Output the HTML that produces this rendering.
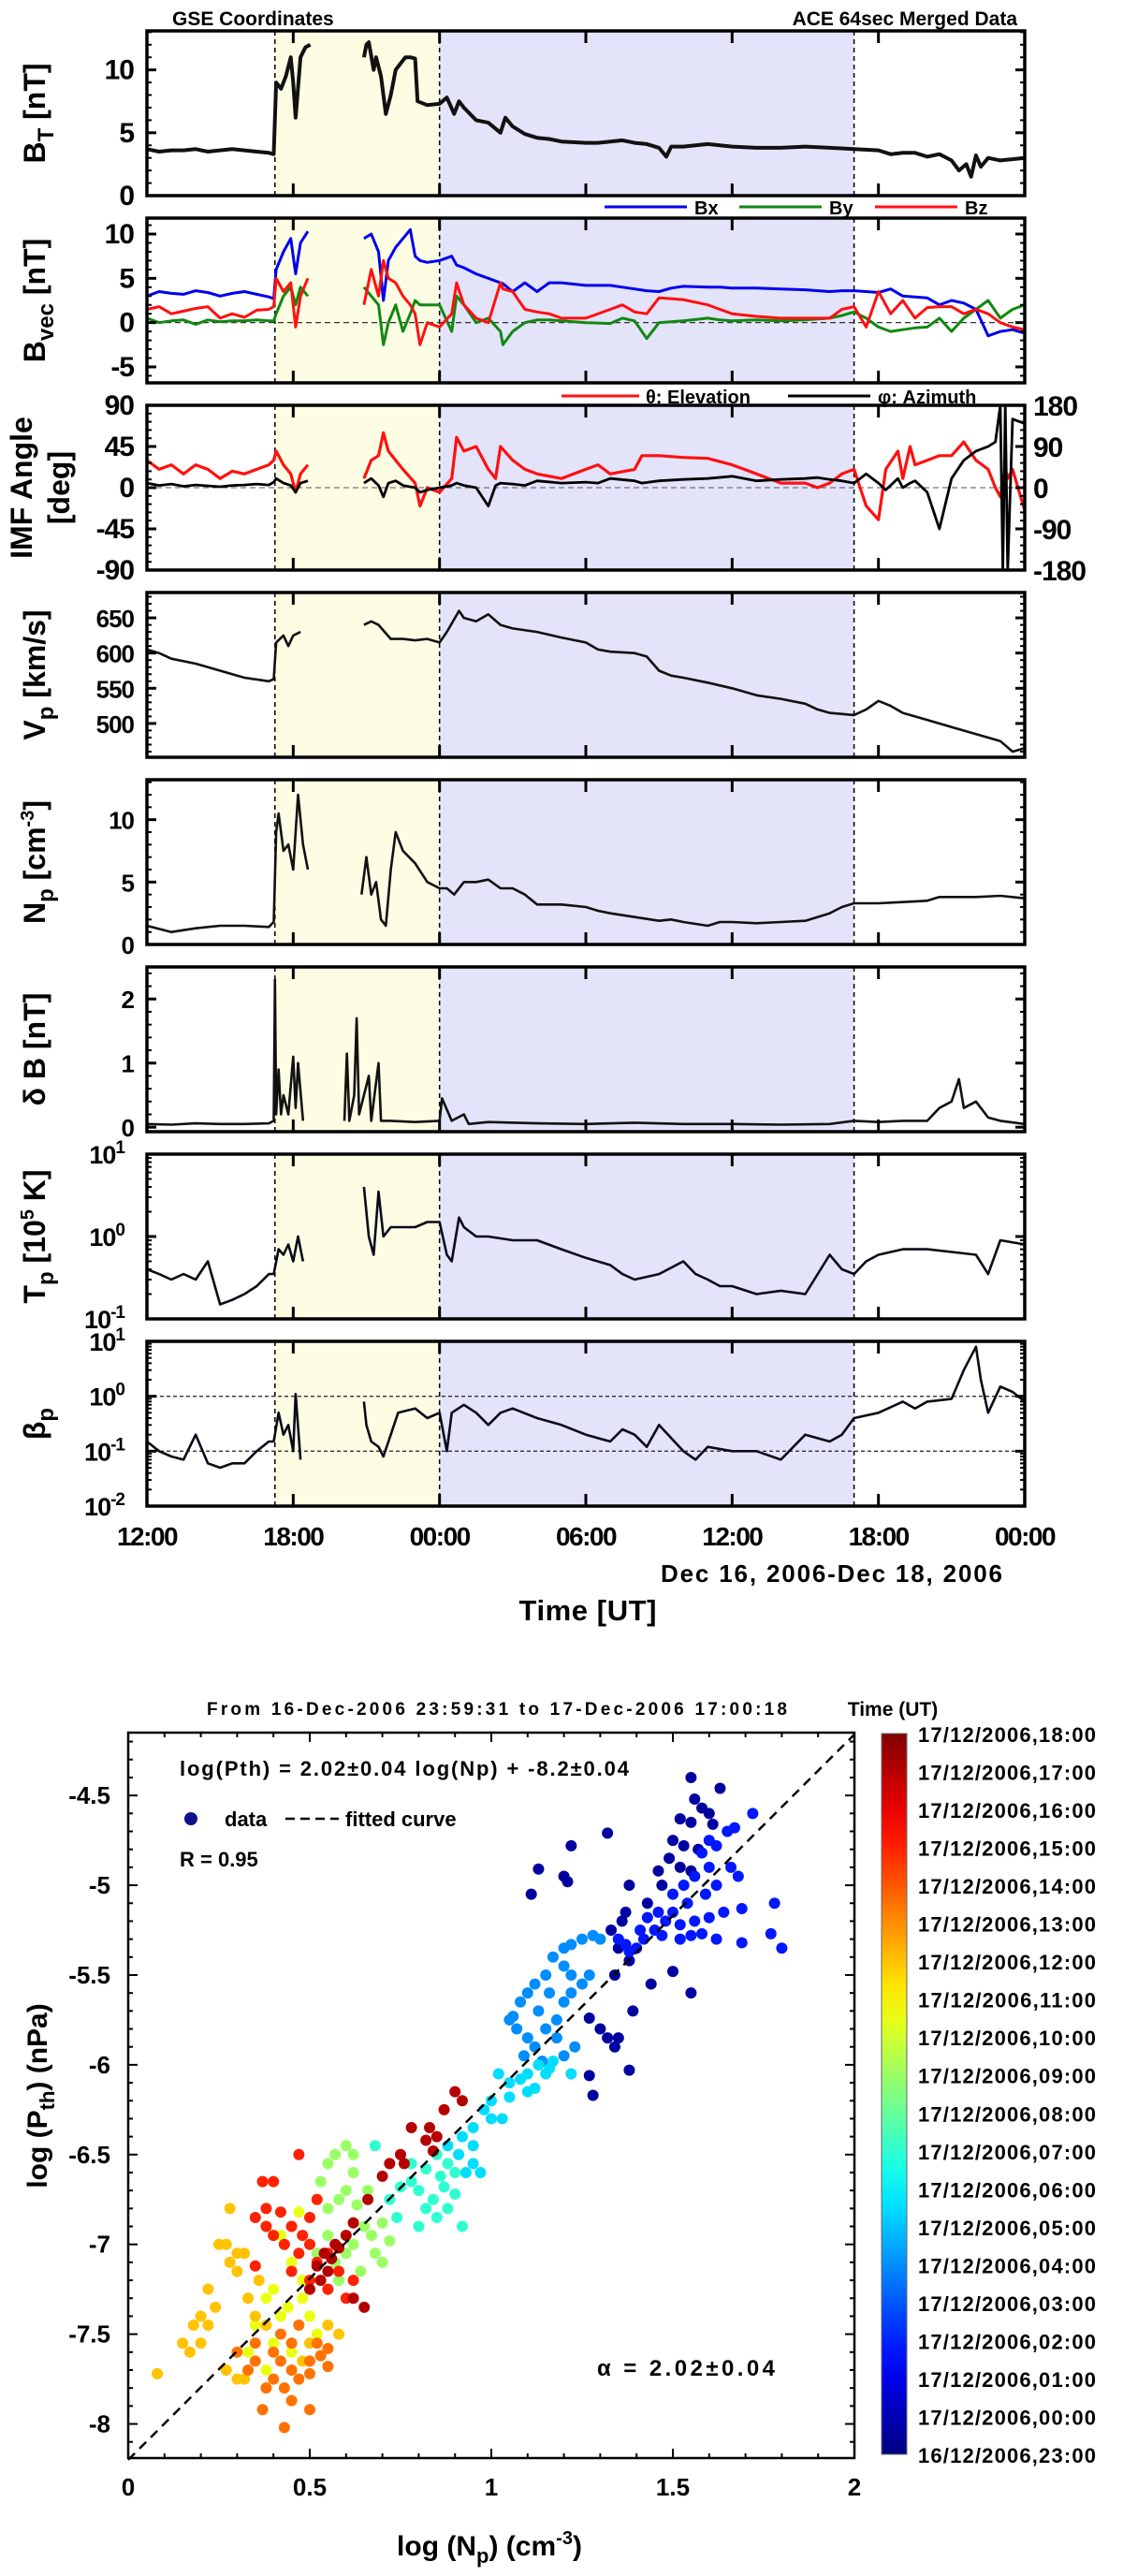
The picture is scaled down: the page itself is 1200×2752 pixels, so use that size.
<!DOCTYPE html>
<html><head><meta charset="utf-8"><style>
html,body{margin:0;padding:0;background:#fff;}
svg{display:block;font-family:"Liberation Sans",sans-serif;font-weight:bold;}
</style></head><body>
<svg id="fig" width="1200" height="2752" viewBox="0 0 1200 2752" xmlns="http://www.w3.org/2000/svg"></svg>
<script>
// ---------- time series data (t = hours since 12:00 Dec 16) ----------
const btT=[0,0.5,1,1.5,2,2.5,3,3.5,4,4.5,5,5.2,5.3,5.5,5.7,5.9,6.0,6.1,6.3,6.5,6.7,null,8.9,9.0,9.1,9.3,9.4,9.6,9.8,10,10.2,10.4,10.6,10.8,11,11.1,11.5,12,12.3,12.6,12.8,13,13.5,14,14.5,14.7,15,15.5,16,16.5,17,18,18.5,19,19.5,20,20.5,21,21.3,21.5,22,23,24,25,26,27,28,29,30,30.5,31,31.5,32,32.5,33,33.3,33.6,33.8,34,34.2,34.5,35,36];
const btV=[3.7,3.5,3.6,3.6,3.7,3.5,3.6,3.7,3.6,3.5,3.4,3.3,9,8.5,9.5,11,9,6.2,11,11.8,12,null,11,12,12.2,10,11,9.5,6.5,8,10,10.5,11,11,10.9,7.5,7.2,7.3,7.8,6.5,7.5,7,6,5.8,5,6.2,5.5,4.9,4.6,4.5,4.3,4.2,4.2,4.3,4.4,4.2,4.1,3.8,3.1,3.9,3.9,4.1,3.9,3.8,3.8,3.9,3.8,3.7,3.6,3.3,3.4,3.4,3.1,3.3,2.8,2,2.5,1.5,3.2,2.3,3,2.8,3.0];
const bT=[0,0.5,1,1.5,2,2.5,3,3.5,4,4.5,5,5.2,5.3,5.6,5.9,6.1,6.3,6.6,null,8.9,9.2,9.5,9.7,9.9,10.2,10.5,10.8,11,11.2,11.5,12,12.5,12.7,13,13.5,14,14.5,14.6,15,15.5,16,16.5,17,18,19,19.5,20,20.5,21,21.5,22,23,23.5,24,25,26,27,28,28.5,29,29.5,30,30.5,31,31.5,32,32.5,33,33.5,34,34.5,35,35.5,36];
const bxV=[3,3.5,3.3,3.2,3.6,3.4,3,3.3,3.5,3.2,2.9,2.7,6,8,9.5,5.5,9,10.3,null,9.5,10,8,2.5,7,8.5,9.5,10.5,7.5,7,6.8,7,7.5,6.5,6.2,5.5,5,4.5,4.4,3.5,4.5,3.5,4.5,4.5,4.2,4.2,4.0,3.8,3.6,3.5,3.9,4.1,4,4,3.9,3.9,3.8,3.7,3.5,3.6,3.6,3.5,3.4,3.8,3,2.9,2.8,2,2.5,2.2,1.5,-1.5,-1,-0.8,-1.2];
const byV=[0.5,0,0.2,0.3,-0.2,0.3,0.1,0.2,0.2,0.3,0.2,0.2,1,3,4,2,4,3,null,4,3,2,-2.5,0,2,-1,1,2.5,2,2,2,-1,3,2,0,0.5,-1,-2.5,-1,0,0.3,0.3,0.2,0,-0.1,0.5,0.2,-1.8,0,0.1,0.2,0.5,0.3,0.2,0.3,0.2,0.3,0.5,0.8,1.2,0.5,-0.5,-1,-0.8,-0.6,-0.5,0.5,-1,0.5,1.5,2.5,0.5,1.5,2];
const bzV=[1.5,1.8,1,1.3,1.6,1.8,0.5,1,0.6,1.4,1.5,1.8,5,3.5,4.5,-0.5,3,5,null,2,6,3,7,5,4.5,3,2,1,-2.5,0,-0.5,1,4.5,2,0.5,0,4.5,3.8,3.5,1.5,1.2,1,0.5,0.5,1.5,2,1.2,1,2.8,2.7,2.6,2,1.5,1,0.7,0.5,0.5,0.5,1.5,1.8,-0.5,3.5,1,2.5,0.5,1.7,1.8,1.8,1,1.5,1,0,-0.5,-0.8];
const angT=[0,0.5,1,1.5,2,2.5,3,3.5,4,4.5,5,5.2,5.3,5.6,5.9,6.1,6.3,6.6,null,8.9,9.2,9.5,9.7,9.9,10.2,10.5,11,11.2,11.5,12,12.5,12.7,13,13.5,14,14.3,14.5,15,15.5,16,17,18,18.5,19,20,20.3,21,22,23,24,24.5,25,26,27,27.5,28,28.5,29,29.5,30,30.3,30.8,31,31.3,31.5,32,32.5,33,33.5,34,34.5,34.8,35,35.1,35.2,35.3,35.5,36];
const thetaV=[30,20,25,15,25,20,10,18,15,20,25,30,40,25,15,-5,15,25,null,10,30,35,60,40,30,20,5,-20,0,-5,10,55,40,45,20,10,45,30,20,15,10,20,25,15,20,35,35,33,32,25,20,15,5,5,0,5,15,20,-20,-35,20,40,10,45,25,30,35,35,50,30,20,0,-10,5,20,10,20,-25];
const phiV=[10,5,8,3,6,4,2,5,6,8,6,12,20,10,5,-10,10,15,null,10,20,5,-20,10,15,5,0,-10,-5,0,5,10,5,0,-40,5,10,8,5,15,10,12,10,20,15,10,15,18,20,25,20,15,18,20,22,18,15,10,30,10,-5,20,0,10,15,-10,-90,20,60,80,90,100,180,-180,180,-180,150,140];
const vpT=[0,0.5,1,2,3,4,5,5.2,5.3,5.6,5.8,6,6.3,null,8.9,9.2,9.5,10,10.5,11,11.5,12,12.3,12.8,13,13.5,14,14.5,15,16,17,18,18.5,19,20,20.5,21,21.5,22,23,24,25,26,27,27.5,28,29,29.5,30,30.5,31,32,33,34,35,35.5,36];
const vpV=[605,600,592,585,575,565,560,563,615,625,610,625,630,null,640,645,640,620,620,618,620,615,630,660,650,645,655,640,635,630,622,615,605,602,600,595,575,568,565,558,550,540,535,528,520,515,512,520,532,525,515,505,495,485,475,460,465];
const npT=[0,1,2,3,4,5,5.2,5.3,5.4,5.6,5.8,6,6.2,6.4,6.6,null,8.8,9,9.2,9.4,9.6,9.8,10,10.2,10.5,11,11.5,12,12.3,12.6,13,13.5,14,14.5,15,15.5,16,17,18,18.5,19,20,21,21.5,22,23,23.5,24,25,26,27,28,28.5,29,30,31,32,32.5,33,34,35,36];
const npV=[1.5,1,1.3,1.5,1.5,1.4,1.8,9,10.5,7.5,8,6,12,8,6,null,4,7,4,5,2,1.5,6,9,7.5,6.5,5,4.5,4.5,4,5,5,5.2,4.5,4.5,4,3.2,3.2,3,2.7,2.5,2.2,1.9,2,1.8,1.5,1.8,1.8,1.7,1.8,1.9,2.5,3,3.3,3.3,3.4,3.5,3.8,3.8,3.8,3.9,3.7];
const dbT=[0,1,2,3,4,5,5.2,5.25,5.3,5.4,5.5,5.6,5.8,6,6.1,6.2,6.4,null,8.1,8.2,8.3,8.5,8.6,8.7,8.9,9.1,9.2,9.5,9.6,10,11,12,12.1,12.5,13,13.2,14,16,18,20,22,24,26,28,29,30,31,32,32.5,33,33.3,33.5,34,34.5,35,36];
const dbV=[0.05,0.04,0.06,0.05,0.05,0.06,0.1,2.3,0.2,0.9,0.2,0.5,0.2,1.1,0.3,1.0,0.1,null,0.1,1.15,0.1,0.5,1.7,0.2,0.5,0.8,0.1,1.0,0.1,0.1,0.08,0.1,0.45,0.1,0.2,0.05,0.08,0.06,0.05,0.07,0.05,0.05,0.04,0.05,0.1,0.08,0.1,0.1,0.3,0.4,0.75,0.3,0.4,0.15,0.1,0.05];
const tpT=[0,0.5,1,1.5,2,2.5,3,3.5,4,4.5,5,5.2,5.4,5.6,5.8,6,6.2,6.4,null,8.9,9.1,9.3,9.5,9.7,10,11,11.5,12,12.3,12.5,12.8,13,13.5,14,15,16,17,18,19,19.5,20,21,22,22.5,23,23.5,24,25,26,27,28,28.5,29,29.5,30,31,32,33,34,34.5,35,36];
const tpV=[0.4,0.35,0.3,0.35,0.3,0.5,0.15,0.17,0.2,0.25,0.35,0.35,0.7,0.6,0.8,0.5,1.0,0.5,null,4,1,0.6,3.5,1,1.3,1.3,1.5,1.5,0.6,0.5,1.7,1.3,1,1,0.9,0.9,0.7,0.55,0.45,0.35,0.3,0.35,0.5,0.35,0.3,0.25,0.25,0.2,0.22,0.2,0.6,0.4,0.35,0.5,0.6,0.7,0.7,0.65,0.6,0.35,0.9,0.8];
const betaT=[0,0.5,1,1.5,2,2.5,3,3.5,4,4.5,5,5.2,5.4,5.6,5.8,6,6.1,6.3,null,8.9,9,9.2,9.5,9.7,10,10.3,11,11.5,12,12.3,12.5,13,13.5,14,14.5,15,16,17,18,19,19.5,20,20.5,21,22,22.5,23,24,25,26,27,28,28.5,29,30,31,31.5,32,33,33.5,34,34.2,34.5,35,35.5,36];
const betaV=[0.15,0.1,0.08,0.07,0.2,0.06,0.05,0.06,0.06,0.1,0.15,0.15,0.5,0.2,0.3,0.1,1.1,0.07,null,0.8,0.3,0.15,0.12,0.08,0.2,0.5,0.6,0.4,0.5,0.1,0.5,0.7,0.5,0.3,0.5,0.6,0.4,0.3,0.2,0.15,0.25,0.2,0.12,0.3,0.1,0.07,0.12,0.1,0.1,0.07,0.2,0.15,0.2,0.4,0.5,0.8,0.6,0.8,0.9,3,8,2,0.5,1.5,1.2,0.8];
const timeTicks=["12:00","18:00","00:00","06:00","12:00","18:00","00:00"];

// ---------- scatter data ----------
const groupHours=[0.6,2.8,5,6.5,8,10,11.5,13,14.5,16,18];
const groupX=[
[1.55,1.56,1.58,1.60,1.52,1.55,1.61,1.50,1.53,1.57,1.49,1.52,1.46,1.55,1.47,1.43,1.37,1.33,1.35,1.34,1.38,1.44,1.55,1.5,1.11,1.13,1.2,1.21,1.22,1.32,1.38,1.27,1.30,1.32,1.34,1.35,1.39,1.38,1.27,1.28,1.36,1.63],
[1.6,1.62,1.65,1.67,1.72,1.58,1.66,1.68,1.62,1.59,1.54,1.5,1.48,1.45,1.52,1.56,1.6,1.64,1.69,1.78,1.77,1.8,1.62,1.58,1.55,1.52,1.47,1.42,1.4,1.38,1.35,1.41,1.46,1.5,1.53,1.56,1.6,1.69,1.43,1.37],
[1.2,1.22,1.25,1.28,1.3,1.17,1.2,1.22,1.15,1.12,1.1,1.13,1.08,1.06,1.05,1.07,1.1,1.12,1.15,1.18,1.2,1.22,1.25,1.27,1.16,1.09,1.14,1.2,1.23,1.18],
[1.02,1.05,1.08,1.1,1.13,1.16,1.15,1.17,1.22,1.05,1.1,1.12,1.0,0.98,1.0,1.03,0.95,0.92,0.95,0.91,0.95,0.97,0.93,0.88],
[0.85,0.88,0.9,0.86,0.82,0.87,0.9,0.84,0.8,0.78,0.75,0.82,0.85,0.88,0.92,0.78,0.72,0.74,0.8,0.68],
[0.6,0.62,0.57,0.55,0.53,0.6,0.63,0.58,0.55,0.5,0.65,0.67,0.62,0.6,0.57,0.55,0.52,0.68,0.7,0.64,0.58,0.62,0.66,0.7,0.72],
[0.47,0.42,0.45,0.48,0.4,0.38,0.44,0.5,0.35,0.4,0.45,0.38,0.33,0.52,0.48,0.42],
[0.28,0.25,0.27,0.3,0.28,0.3,0.32,0.22,0.24,0.2,0.18,0.2,0.17,0.15,0.22,0.27,0.3,0.32,0.35,0.38,0.33,0.36,0.08,0.5,0.55,0.58,0.48],
[0.42,0.45,0.5,0.53,0.55,0.5,0.47,0.43,0.4,0.38,0.35,0.33,0.3,0.37,0.43,0.45,0.5,0.45,0.52,0.55,0.42,0.47,0.4,0.35],
[0.37,0.4,0.47,0.35,0.38,0.42,0.45,0.4,0.43,0.47,0.5,0.52,0.55,0.58,0.62,0.6,0.55,0.5,0.48,0.45,0.35,0.52,0.5,0.38],
[0.9,0.92,0.87,0.83,0.85,0.82,0.78,0.75,0.76,0.7,0.66,0.62,0.6,0.58,0.56,0.55,0.53,0.57,0.54,0.52,0.65,0.62,0.84,0.72,0.5]];
const groupY=[
[-4.4,-4.52,-4.57,-4.6,-4.63,-4.65,-4.66,-4.75,-4.78,-4.8,-4.85,-4.9,-4.92,-4.92,-5.0,-5.1,-5.15,-5.25,-5.35,-5.5,-5.42,-5.55,-5.6,-5.48,-5.05,-4.91,-4.95,-4.98,-4.78,-4.71,-5.0,-5.74,-5.8,-5.85,-5.9,-5.85,-5.7,-6.03,-6.06,-6.17,-5.2,-4.46],
[-4.75,-4.78,-4.7,-4.68,-4.6,-4.82,-4.9,-4.95,-5.0,-5.05,-5.1,-5.15,-5.2,-5.25,-5.22,-5.2,-5.18,-5.15,-5.13,-5.1,-5.27,-5.35,-5.3,-5.27,-5.28,-5.3,-5.28,-5.3,-5.35,-5.37,-5.3,-5.25,-5.15,-5.05,-5.0,-4.95,-4.9,-5.32,-5.18,-5.33],
[-5.35,-5.33,-5.3,-5.28,-5.3,-5.4,-5.45,-5.5,-5.5,-5.55,-5.6,-5.7,-5.65,-5.73,-5.75,-5.8,-5.85,-5.9,-5.8,-5.75,-5.65,-5.6,-5.55,-5.5,-5.6,-5.95,-5.98,-5.95,-5.9,-5.85],
[-6.05,-6.1,-6.08,-6.05,-6.0,-6.02,-6.05,-5.98,-6.05,-6.18,-6.15,-6.13,-6.2,-6.25,-6.3,-6.3,-6.35,-6.4,-6.45,-6.5,-6.55,-6.6,-6.6,-6.45],
[-6.5,-6.55,-6.6,-6.62,-6.58,-6.68,-6.72,-6.75,-6.7,-6.65,-6.68,-6.8,-6.85,-6.8,-6.9,-6.55,-6.75,-6.85,-6.9,-6.45],
[-6.45,-6.5,-6.5,-6.55,-6.65,-6.7,-6.78,-6.75,-6.8,-6.85,-6.9,-6.95,-7.0,-7.05,-7.1,-6.95,-7.05,-7.05,-7.1,-7.15,-7.2,-6.6,-6.7,-6.88,-6.98],
[-6.82,-6.95,-7.1,-7.2,-7.25,-7.3,-7.35,-7.4,-7.45,-7.55,-7.6,-7.7,-7.6,-7.5,-7.3,-7.4],
[-6.8,-7.0,-7.0,-7.05,-7.1,-7.15,-7.05,-7.25,-7.35,-7.4,-7.45,-7.55,-7.6,-7.55,-7.45,-7.7,-7.75,-7.75,-7.4,-7.45,-7.3,-7.2,-7.72,-7.55,-7.45,-7.5,-7.65],
[-7.65,-7.7,-7.65,-7.62,-7.68,-7.72,-7.75,-7.8,-7.75,-7.8,-7.65,-7.7,-7.6,-7.92,-8.02,-7.87,-7.92,-7.55,-7.55,-7.58,-7.5,-7.45,-7.6,-7.55],
[-6.65,-6.65,-6.5,-6.85,-6.8,-6.82,-6.9,-6.95,-7.0,-7.05,-7.0,-7.1,-7.05,-7.15,-7.2,-7.3,-7.25,-7.2,-6.95,-7.15,-7.12,-6.75,-6.85,-6.9],
[-6.15,-6.2,-6.25,-6.35,-6.4,-6.42,-6.35,-6.5,-6.55,-6.62,-6.75,-6.88,-6.95,-7.02,-7.08,-7.15,-7.2,-7.0,-7.05,-7.12,-7.35,-7.3,-6.48,-6.55,-7.25]];
const fitSlope=2.02, fitIntercept=-8.2;
const cbLabels=["17/12/2006,18:00","17/12/2006,17:00","17/12/2006,16:00","17/12/2006,15:00","17/12/2006,14:00","17/12/2006,13:00","17/12/2006,12:00","17/12/2006,11:00","17/12/2006,10:00","17/12/2006,09:00","17/12/2006,08:00","17/12/2006,07:00","17/12/2006,06:00","17/12/2006,05:00","17/12/2006,04:00","17/12/2006,03:00","17/12/2006,02:00","17/12/2006,01:00","17/12/2006,00:00","16/12/2006,23:00"];
const xTickVals=[0,0.5,1,1.5,2];
const yTickVals=[-4.5,-5,-5.5,-6,-6.5,-7,-7.5,-8];

// ---------- helpers ----------
const NS="http://www.w3.org/2000/svg";
const svg=document.getElementById('fig');
function el(tag,attrs,name,parent){
  const e=document.createElementNS(NS,tag);
  for(const k in attrs) e.setAttribute(k,attrs[k]);
  
  
  (parent||svg).appendChild(e);
  return e;
}
function txt(x,y,s,size,name,anchor,extra){
  const a=Object.assign({x:x,y:y,'font-size':size,'text-anchor':anchor||'start',fill:'#000'},extra||{});
  const t=el('text',a,name);
  t.textContent=s;
  return t;
}
function jet(v){
  v=Math.max(0,Math.min(1,v));
  const r=Math.max(0,Math.min(1,1.5-Math.abs(4*v-3)));
  const g=Math.max(0,Math.min(1,1.5-Math.abs(4*v-2)));
  const b=Math.max(0,Math.min(1,1.5-Math.abs(4*v-1)));
  return `rgb(${Math.round(r*255)},${Math.round(g*255)},${Math.round(b*255)})`;
}

// ---------- time series panels ----------
const L=157,R=1095,PT0=33,PITCH=200,PH=176;
const X=t=>L+t/36*(R-L);
const panels=[
 {name:'bt',lo:0,hi:13.1,log:false,ticks:[0,5,10],minor:1,label:['B','T',' [nT]']},
 {name:'bvec',lo:-6.8,hi:11.8,log:false,ticks:[-5,0,5,10],minor:1,label:['B','vec',' [nT]']},
 {name:'angle',lo:-90,hi:90,log:false,ticks:[-90,-45,0,45,90],minor:9},
 {name:'vp',lo:452,hi:686,log:false,ticks:[500,550,600,650],minor:10,label:['V','p',' [km/s]']},
 {name:'np',lo:0,hi:13.2,log:false,ticks:[0,5,10],minor:1,label:['N','p',' [cm','-3',']']},
 {name:'db',lo:-0.07,hi:2.5,log:false,ticks:[0,1,2],minor:0.2,label:['δ B [nT]']},
 {name:'tp',lo:-1,hi:1,log:true,ticks:[-1,0,1],label:['T','p',' [10','5',' K]']},
 {name:'beta',lo:-2,hi:1,log:true,ticks:[-2,-1,0,1],label:['β','p']}
];
panels.forEach((p,i)=>{
  const top=PT0+i*PITCH,bot=top+PH;
  p.Y=v=>{const vv=p.log?Math.log10(v):v;return bot-(vv-p.lo)/(p.hi-p.lo)*PH;};
  p.top=top;p.bot=bot;
  const g=el('g',{},'panel-'+p.name);
  el('rect',{x:X(5.25),y:top,width:X(12)-X(5.25),height:PH,fill:'#fdfde4'},'sheath-shading',g);
  el('rect',{x:X(12),y:top,width:X(29)-X(12),height:PH,fill:'#e3e3fa'},'mc-shading',g);
  [5.25,12,29].forEach(t=>el('line',{x1:X(t),x2:X(t),y1:top,y2:bot,stroke:'#000','stroke-width':1.5,'stroke-dasharray':'5,4'},'boundary-line',g));
  p.g=g;
});
function series(p,T,V,color,width,name,mapV){
  let d='',pen=false;
  for(let k=0;k<T.length;k++){
    if(T[k]===null||V[k]===null){pen=false;continue;}
    const y=mapV?mapV(V[k]):p.Y(V[k]);
    d+=(pen?'L':'M')+X(T[k]).toFixed(1)+','+y.toFixed(1);pen=true;
  }
  el('path',{d:d,fill:'none',stroke:color,'stroke-width':width,'stroke-linejoin':'round'},name,p.g);
}
const P=Object.fromEntries(panels.map(p=>[p.name,p]));
series(P.bt,btT,btV,'#111',4,'bt-line');
el('line',{x1:L,x2:R,y1:P.bvec.Y(0),y2:P.bvec.Y(0),stroke:'#333','stroke-width':1.2,'stroke-dasharray':'6,4'},'zero-line',P.bvec.g);
series(P.bvec,bT,bxV,'#0000ee',3,'bx-line');
series(P.bvec,bT,byV,'#118811',3,'by-line');
series(P.bvec,bT,bzV,'#ff1010',3,'bz-line');
el('line',{x1:L,x2:R,y1:P.angle.Y(0),y2:P.angle.Y(0),stroke:'#555','stroke-width':1,'stroke-dasharray':'6,4'},'zero-line',P.angle.g);
series(P.angle,angT,thetaV,'#ff1010',3.2,'theta-line');
series(P.angle,angT,phiV,'#000',2.8,'phi-line',v=>P.angle.Y(v/2));
series(P.vp,vpT,vpV,'#111',2.6,'vp-line');
series(P.np,npT,npV,'#111',2.6,'np-line');
series(P.db,dbT,dbV,'#111',2.6,'db-line');
series(P.tp,tpT,tpV,'#0a0a18',2.6,'tp-line');
[1,0.1].forEach(v=>el('line',{x1:L,x2:R,y1:P.beta.Y(v),y2:P.beta.Y(v),stroke:'#333','stroke-width':1.3,'stroke-dasharray':'4,3'},'reference-line',P.beta.g));
series(P.beta,betaT,betaV,'#0a0a18',2.6,'beta-line');

// axes, ticks, labels
panels.forEach(p=>{
  const g=p.g;
  el('rect',{x:L,y:p.top,width:R-L,height:PH,fill:'none',stroke:'#000','stroke-width':3.5},'panel-frame',g);
  for(let h=0;h<=36;h+=6){
    el('line',{x1:X(h),x2:X(h),y1:p.bot,y2:p.bot-13,stroke:'#000','stroke-width':3},'x-tick',g);
    el('line',{x1:X(h),x2:X(h),y1:p.top,y2:p.top+13,stroke:'#000','stroke-width':3},'x-tick',g);
  }
  if(p.log){
    for(let dcd=p.lo;dcd<p.hi;dcd++) for(let m=2;m<10;m++){
      const y=p.Y(m*Math.pow(10,dcd));
      el('line',{x1:L,x2:L+5,y1:y,y2:y,stroke:'#000','stroke-width':2},'y-minor-tick',g);
      el('line',{x1:R,x2:R-5,y1:y,y2:y,stroke:'#000','stroke-width':2},'y-minor-tick',g);
    }
    p.ticks.forEach(e=>{
      const y=p.Y(Math.pow(10,e));
      el('line',{x1:L,x2:L+10,y1:y,y2:y,stroke:'#000','stroke-width':3},'y-tick',g);
      el('line',{x1:R,x2:R-10,y1:y,y2:y,stroke:'#000','stroke-width':3},'y-tick',g);
      const t=txt(133,y+10,'10',27,'y-tick-label','end',{'letter-spacing':'-1'});
      const s=document.createElementNS(NS,'tspan');s.setAttribute('dy','-11');s.setAttribute('font-size','19');s.textContent=String(e);t.appendChild(s);
    });
  } else {
    const step=p.minor;
    for(let v=Math.ceil(p.lo/step)*step;v<=p.hi;v+=step){
      const y=p.Y(v);
      el('line',{x1:L,x2:L+5,y1:y,y2:y,stroke:'#000','stroke-width':2},'y-minor-tick',g);
      el('line',{x1:R,x2:R-5,y1:y,y2:y,stroke:'#000','stroke-width':2},'y-minor-tick',g);
    }
    p.ticks.forEach(v=>{
      const y=p.Y(v);
      el('line',{x1:L,x2:L+10,y1:y,y2:y,stroke:'#000','stroke-width':3},'y-tick',g);
      el('line',{x1:R,x2:R-10,y1:y,y2:y,stroke:'#000','stroke-width':3},'y-tick',g);
      txt(143,y+10,String(v),p.name==='bt'||p.name==='bvec'||p.name==='angle'?30:26,'y-tick-label','end',{'letter-spacing':'-1'});
    });
  }
  if(p.label){
    const cy=(p.top+p.bot)/2;
    const t=el('text',{x:0,y:0,'font-size':32,'text-anchor':'middle',transform:`translate(48,${cy}) rotate(-90)`},'y-axis-title');
    p.label.forEach((s,k)=>{
      const sp=document.createElementNS(NS,'tspan');
      const isSub=(p.label.length>1&&k===1);
      const isSup=(k===3);
      if(isSub){sp.setAttribute('dy','9');sp.setAttribute('font-size','24');}
      else if(isSup){sp.setAttribute('dy','-12');sp.setAttribute('font-size','20');}
      else if(k===2){sp.setAttribute('dy','-9');}
      else if(k===4){sp.setAttribute('dy','12');}
      sp.textContent=s;t.appendChild(sp);
    });
  }
});
// angle panel labels
el('text',{x:0,y:0,'font-size':32,'text-anchor':'middle',transform:`translate(34,${(P.angle.top+P.angle.bot)/2}) rotate(-90)`},'y-axis-title').textContent='IMF Angle';
el('text',{x:0,y:0,'font-size':32,'text-anchor':'middle',transform:`translate(74,${(P.angle.top+P.angle.bot)/2}) rotate(-90)`},'y-axis-title').textContent='[deg]';
[180,90,0,-90,-180].forEach(v=>txt(1104,P.angle.Y(v/2)+11,String(v),30,'right-axis-tick-label','start',{'letter-spacing':'-1'}));

// headers & legends
txt(184,27,'GSE Coordinates',21,'left-header');
txt(1087,27,'ACE 64sec Merged Data',21,'right-header','end');
[['#0000ee','Bx',646],['#118811','By',790],['#ff1010','Bz',935]].forEach(([c,s,x])=>{
  el('line',{x1:x,x2:x+88,y1:221,y2:221,stroke:c,'stroke-width':3},'legend-line-'+s.toLowerCase());
  txt(x+96,229,s,20,'legend-label-'+s.toLowerCase());
});
el('line',{x1:600,x2:683,y1:423,y2:423,stroke:'#ff1010','stroke-width':3},'legend-line-theta');
txt(690,431,'θ: Elevation',20,'legend-label-theta');
el('line',{x1:842,x2:930,y1:423,y2:423,stroke:'#000','stroke-width':3},'legend-line-phi');
txt(938,431,'φ: Azimuth',20,'legend-label-phi');
timeTicks.forEach((s,k)=>txt(X(k*6),1651,s,28,'x-tick-label','middle',{'letter-spacing':'-1.5'}));
txt(706,1690,'Dec 16, 2006-Dec 18, 2006',26,'date-range-label','start',{textLength:365});
txt(628,1731,'Time [UT]',31,'x-axis-title','middle',{textLength:147});

// ---------- scatter ----------
const SL=137,SR=913,ST=1851,SB=2626,XMIN=0,XMAX=2,YMIN=-8.19,YMAX=-4.15;
const SX=v=>SL+(v-XMIN)/(XMAX-XMIN)*(SR-SL);
const SY=v=>SB-(v-YMIN)/(YMAX-YMIN)*(SB-ST);
const sg=el('g',{},'scatter-plot');
el('rect',{x:SL,y:ST,width:SR-SL,height:SB-ST,fill:'#fff',stroke:'none'},'plot-area',sg);
groupHours.forEach((h,gi)=>{
  groupX[gi].forEach((x,k)=>{
    el('circle',{cx:SX(x),cy:SY(groupY[gi][k]),r:6,fill:jet(h/19)},'data-point',sg);
  });
});
el('line',{x1:SX(0),y1:SY(fitIntercept),x2:SX(2),y2:SY(fitIntercept+2*fitSlope),stroke:'#000','stroke-width':2.5,'stroke-dasharray':'10,7'},'fitted-line',sg);
el('rect',{x:SL,y:ST,width:SR-SL,height:SB-ST,fill:'none',stroke:'#000','stroke-width':2.5},'scatter-frame',sg);
for(let v=0;v<=2.001;v+=0.1){
  const len=Math.abs(v*2-Math.round(v*2))<1e-6?10:5;
  el('line',{x1:SX(v),x2:SX(v),y1:SB,y2:SB-len,stroke:'#000','stroke-width':2},'x-tick',sg);
  el('line',{x1:SX(v),x2:SX(v),y1:ST,y2:ST+len,stroke:'#000','stroke-width':2},'x-tick',sg);
}
for(let v=-8.1;v<=-4.15;v+=0.1){
  const len=Math.abs(v*2-Math.round(v*2))<1e-6?10:5;
  el('line',{x1:SL,x2:SL+len,y1:SY(v),y2:SY(v),stroke:'#000','stroke-width':2},'y-tick',sg);
  el('line',{x1:SR,x2:SR-len,y1:SY(v),y2:SY(v),stroke:'#000','stroke-width':2},'y-tick',sg);
}
xTickVals.forEach(v=>txt(SX(v),2666,String(v),26,'x-tick-label','middle'));
yTickVals.forEach(v=>txt(118,SY(v)+9,String(v),26,'y-tick-label','end'));
txt(531,1832,'From  16-Dec-2006 23:59:31  to  17-Dec-2006 17:00:18',19,'scatter-title','middle',{textLength:620});
txt(192,1897,'log(Pth)  = 2.02±0.04 log(Np) +  -8.2±0.04',22,'fit-equation','start',{textLength:480});
el('circle',{cx:204,cy:1943,r:7,fill:'#10108a'},'legend-dot',sg);
txt(240,1951,'data',22,'legend-data-label');
el('line',{x1:305,x2:362,y1:1943,y2:1943,stroke:'#000','stroke-width':2.5,'stroke-dasharray':'10,6'},'legend-fit-line',sg);
txt(369,1951,'fitted curve',22,'legend-fit-label');
txt(192,1994,'R =  0.95',22,'correlation-label');
txt(638,2538,'α  =  2.02±0.04',24,'alpha-label','start',{textLength:190});
el('text',{x:0,y:0,'font-size':30,'text-anchor':'middle',transform:'translate(50,2239) rotate(-90)'},'y-axis-title').innerHTML='log (P<tspan font-size="22" dy="8">th</tspan><tspan dy="-8">) (nPa)</tspan>';
el('text',{x:523,y:2730,'font-size':30,'text-anchor':'middle'},'x-axis-title').innerHTML='log (N<tspan font-size="22" dy="8">p</tspan><tspan dy="-8">) (cm</tspan><tspan font-size="20" dy="-12">-3</tspan><tspan dy="12">)</tspan>';
// colorbar
const CL=942,CW=27,CT=1852,CB=2622;
const defs=el('defs',{},'defs');
const lg=el('linearGradient',{id:'jetg',x1:0,y1:1,x2:0,y2:0},'colorbar-gradient',defs);
for(let k=0;k<=20;k++){el('stop',{offset:(k/20),'stop-color':jet(k/20)},'gradient-stop',lg);}
el('rect',{x:CL,y:CT,width:CW,height:CB-CT,fill:'url(#jetg)',stroke:'#666','stroke-width':1},'colorbar',svg);
cbLabels.forEach((s,k)=>txt(981,CT+k*(CB-CT)/19+9,s,22,'colorbar-label','start',{textLength:190}));
txt(954,1833,'Time (UT)',21,'colorbar-title','middle');
</script>
</body></html>
